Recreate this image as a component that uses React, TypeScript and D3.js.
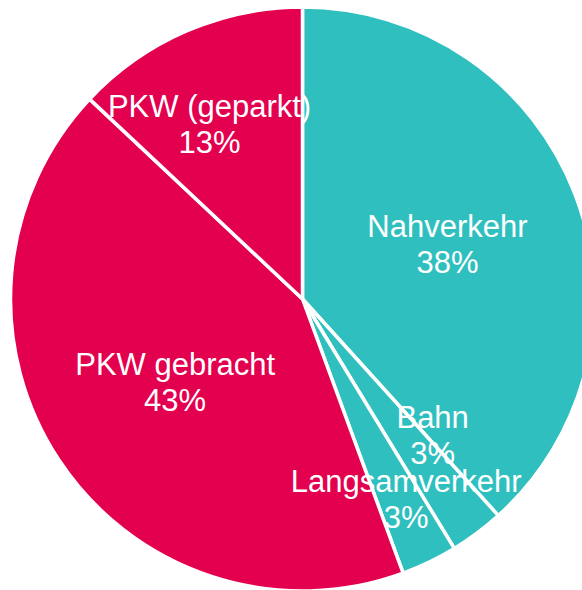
import React from "react";
import * as d3 from "d3";

const categories = ["Nahverkehr", "Bahn", "Langsamverkehr", "PKW gebracht", "PKW (geparkt)"];
const values = [38.3, 3.0, 3.1, 42.6, 13.0];
const colors = ["#30BFBF", "#30BFBF", "#30BFBF", "#E2004F", "#E2004F"];

// layout: label radius (px) and angle nudge (deg) per slice
const labelRadius = [155, 188, 225, 152, 198];
const labelNudge = [0.3, -7.1, -1.7, 0.4, -4.6];

const W = 582;
const H = 590;
const CX = 302.5;
const CY = 299;
const R = 292;

export default function App() {
  const pie = d3.pie<number>().sort(null).value((d) => d);
  const arcs = pie(values);
  const arc = d3.arc<d3.PieArcDatum<number>>().innerRadius(0).outerRadius(R);
  const total = d3.sum(values);

  return (
    <svg
      width={W}
      height={H}
      style={{ position: "absolute", left: 0, top: 0, background: "#fff" }}
    >
      <g transform={`translate(${CX},${CY})`}>
        {arcs.map((a, i) => (
          <path
            key={categories[i]}
            d={arc(a) || ""}
            fill={colors[i]}
            stroke="#fff"
            strokeWidth={3.5}
            strokeLinejoin="round"
          />
        ))}
        {arcs.map((a, i) => {
          const mid = (a.startAngle + a.endAngle) / 2 + (labelNudge[i] * Math.PI) / 180;
          const x = Math.sin(mid) * labelRadius[i];
          const y = -Math.cos(mid) * labelRadius[i];
          const pct = Math.round((values[i] / total) * 100);
          return (
            <text
              key={"l" + i}
              x={x}
              y={y}
              fill="#fff"
              textAnchor="middle"
              style={{ fontFamily: "'Liberation Sans', Arial, sans-serif", fontSize: 31 }}
            >
              <tspan x={x} y={y - 7}>{categories[i]}</tspan>
              <tspan x={x} y={y + 29}>{pct}%</tspan>
            </text>
          );
        })}
      </g>
    </svg>
  );
}
